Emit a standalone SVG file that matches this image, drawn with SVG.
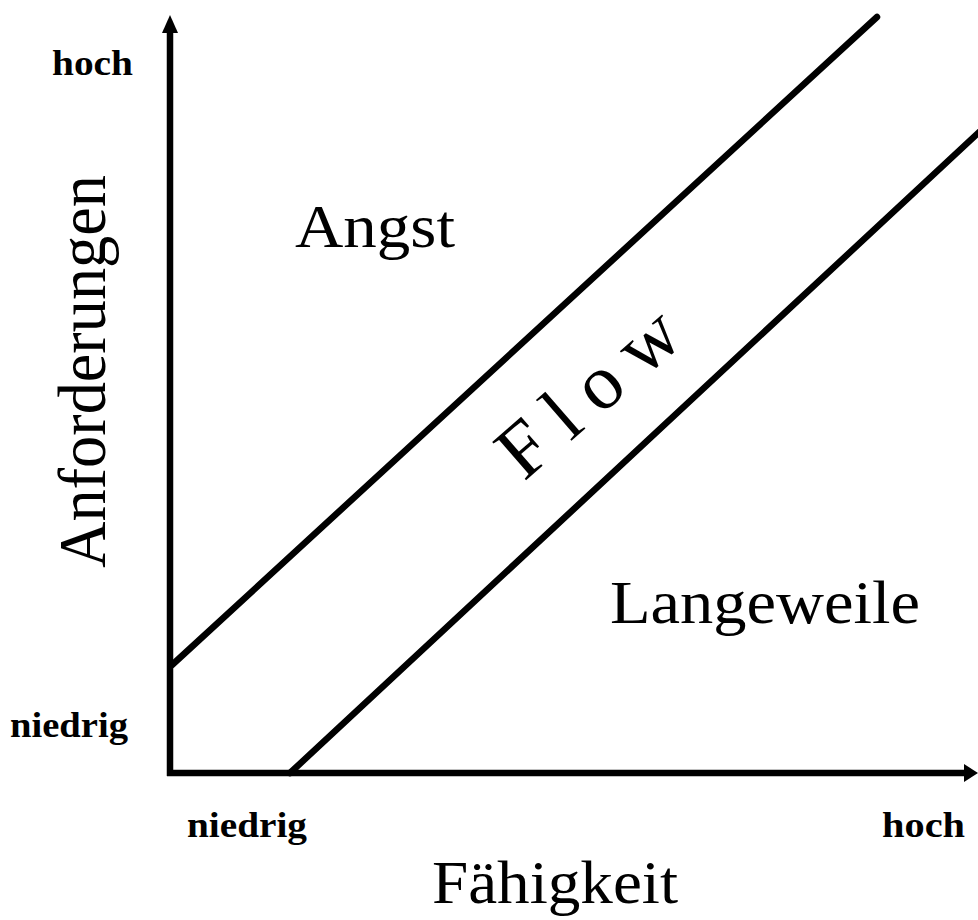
<svg xmlns="http://www.w3.org/2000/svg" width="978" height="920" viewBox="0 0 978 920">
<style>
.ax{stroke:#000;stroke-width:6.5;fill:none}
.dg{stroke:#000;stroke-width:6.5;fill:none;stroke-linecap:round}
.sm{font-family:"Liberation Serif",serif;font-weight:bold;font-size:36px;fill:#000}
.lg{font-family:"Liberation Serif",serif;font-size:62px;fill:#000}
</style>
<rect width="978" height="920" fill="#fff"/>
<g id="connectors">
<path class="ax" d="M170,776 L170,28"/>
<path d="M162,33 L170,15 L178,33 z" fill="#000"/>
<path class="ax" d="M167,773 L965,773"/>
<path d="M964,764 L978,773 L964,782 z" fill="#000"/>
<path class="dg" d="M172,665 L877,17"/>
<path class="dg" d="M290,773 L990,122"/>
</g>
<g id="y-label">
<text class="lg" style="font-size:64px" transform="translate(105,568) scale(1.07,1) rotate(-90)" textLength="393" lengthAdjust="spacingAndGlyphs">Anforderungen</text>
</g>
<g id="y-hoch"><text class="sm" x="52" y="75" textLength="81" lengthAdjust="spacingAndGlyphs">hoch</text></g>
<g id="y-niedrig"><text class="sm" x="10" y="737" textLength="118" lengthAdjust="spacingAndGlyphs">niedrig</text></g>
<g id="x-niedrig"><text class="sm" x="187" y="837" textLength="120" lengthAdjust="spacingAndGlyphs">niedrig</text></g>
<g id="x-hoch"><text class="sm" x="882" y="837" textLength="83" lengthAdjust="spacingAndGlyphs">hoch</text></g>
<g id="x-label"><text class="lg" x="432" y="903" textLength="246" lengthAdjust="spacingAndGlyphs">Fähigkeit</text></g>
<g id="angst"><text class="lg" x="295" y="247" textLength="160" lengthAdjust="spacingAndGlyphs">Angst</text></g>
<g id="langeweile"><text class="lg" x="610" y="623" textLength="310" lengthAdjust="spacingAndGlyphs">Langeweile</text></g>
<g id="flow"><text class="lg" style="font-size:78px;letter-spacing:18px" transform="translate(524,482) rotate(-41)">Flow</text></g>
</svg>
